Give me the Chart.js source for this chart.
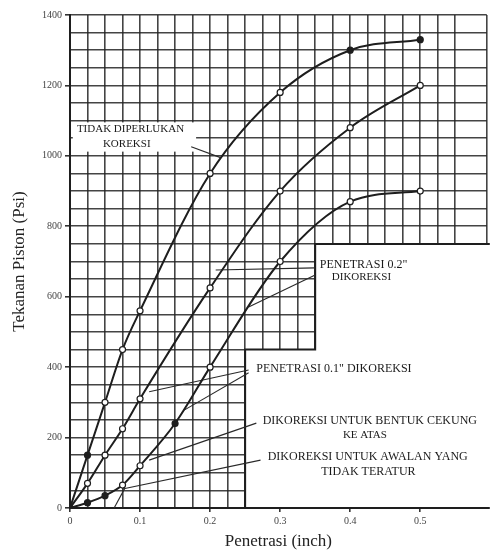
<!DOCTYPE html>
<html lang="id">
<head>
<meta charset="UTF-8">
<title>Tekanan Piston vs Penetrasi</title>
<script src="https://cdn.jsdelivr.net/npm/chart.js@4.4.1/dist/chart.umd.min.js"></script>
<style>
    html, body { margin: 0; padding: 0; background: #fff; }
    #wrap { width: 492px; height: 551px; }
</style>
</head>
<body>
<div id="wrap"><canvas id="grafik"></canvas></div>

<script>
    // data (penetrasi dalam inch, tekanan dalam psi)
    var penetrasiA = [0, 0.025, 0.05, 0.075, 0.1, 0.2, 0.3, 0.4, 0.5];
    var tekananA   = [0, 150, 300, 450, 560, 950, 1180, 1300, 1330];

    var penetrasiB = [0, 0.025, 0.05, 0.075, 0.1, 0.2, 0.3, 0.4, 0.5];
    var tekananB   = [0, 70, 150, 225, 310, 625, 900, 1080, 1200];

    var penetrasiC = [0, 0.025, 0.05, 0.075, 0.1, 0.15, 0.2, 0.3, 0.4, 0.5];
    var tekananC   = [0, 15, 35, 65, 120, 240, 400, 700, 870, 900];

    // garis penunjuk ke keterangan [x1, y1, x2, y2]
    var garisPenunjuk = [
        [0.173, 1026, 0.215, 995],
        [0.208, 676, 0.350, 682],
        [0.255, 571, 0.350, 662],
        [0.113, 330, 0.255, 392],
        [0.163, 278, 0.255, 384],
        [0.113, 136, 0.266, 241],
        [0.075, 54, 0.272, 136],
        [0.063, 0, 0.078, 55]
    ];

    var labelY = [0, 200, 400, 600, 800, 1000, 1200, 1400];
    var labelX = [0, 0.1, 0.2, 0.3, 0.4, 0.5];

    function titik(xs, ys) {
        var hasil = [];
        for (var i = 0; i < xs.length; i++) hasil.push({ x: xs[i], y: ys[i] });
        return hasil;
    }

    function adaDi(daftar, v) {
        for (var i = 0; i < daftar.length; i++) {
            if (Math.abs(daftar[i] - v) < 1e-6) return true;
        }
        return false;
    }

    var hitam = '#1e1e1e';
    var putih = '#ffffff';
    var hurufSerif = '"Liberation Serif", "DejaVu Serif", serif';

    var datasets = [
        {
            label: 'A', data: titik(penetrasiA, tekananA),
            borderColor: hitam, borderWidth: 2, tension: 0.4, cubicInterpolationMode: 'monotone',
            pointRadius: 3, pointBorderWidth: 1.2, pointBorderColor: hitam,
            pointBackgroundColor: [hitam, hitam, putih, putih, putih, putih, putih, hitam, hitam]
        },
        {
            label: 'B', data: titik(penetrasiB, tekananB),
            borderColor: hitam, borderWidth: 2, tension: 0.4, cubicInterpolationMode: 'monotone',
            pointRadius: 3, pointBorderWidth: 1.2, pointBorderColor: hitam,
            pointBackgroundColor: putih
        },
        {
            label: 'C', data: titik(penetrasiC, tekananC),
            borderColor: hitam, borderWidth: 2, tension: 0.4, cubicInterpolationMode: 'monotone',
            pointRadius: 3, pointBorderWidth: 1.2, pointBorderColor: hitam,
            pointBackgroundColor: [hitam, hitam, hitam, putih, putih, hitam, putih, putih, putih, putih]
        }
    ];

    garisPenunjuk.forEach(function (g) {
        datasets.push({
            data: [{ x: g[0], y: g[1] }, { x: g[2], y: g[3] }],
            borderColor: '#2a2a2a', borderWidth: 1.1, pointRadius: 0, tension: 0
        });
    });

    // daerah putih (tanpa grid) di kanan bawah + keterangan
    var bidangPutih = {
        id: 'bidangPutih',
        beforeDatasetsDraw: function (chart) {
            var ctx = chart.ctx, xs = chart.scales.x, ys = chart.scales.y, area = chart.chartArea;
            var x1 = xs.getPixelForValue(0.25), x2 = xs.getPixelForValue(0.35);
            var y1 = ys.getPixelForValue(450), y2 = ys.getPixelForValue(750);
            ctx.save();
            ctx.fillStyle = '#fff';
            ctx.beginPath();
            ctx.moveTo(x1, area.bottom);
            ctx.lineTo(x1, y1);
            ctx.lineTo(x2, y1);
            ctx.lineTo(x2, y2);
            ctx.lineTo(area.right + 3, y2);
            ctx.lineTo(area.right + 3, area.bottom);
            ctx.closePath();
            ctx.fill();

            // kotak putih di belakang "TIDAK DIPERLUKAN KOREKSI"
            var bx1 = xs.getPixelForValue(0.004), bx2 = xs.getPixelForValue(0.18);
            var by1 = ys.getPixelForValue(1095), by2 = ys.getPixelForValue(1012);
            ctx.fillRect(bx1, by1, bx2 - bx1, by2 - by1);

            ctx.strokeStyle = hitam;
            ctx.lineWidth = 2;
            ctx.beginPath();
            ctx.moveTo(x1, area.bottom);
            ctx.lineTo(x1, y1);
            ctx.lineTo(x2, y1);
            ctx.lineTo(x2, y2);
            ctx.lineTo(area.right + 3, y2);
            ctx.stroke();
            ctx.beginPath();
            ctx.moveTo(area.left, area.bottom);
            ctx.lineTo(area.right + 3, area.bottom);
            ctx.stroke();
            ctx.restore();
        },
        afterDatasetsDraw: function (chart) {
            var ctx = chart.ctx, xs = chart.scales.x, ys = chart.scales.y;
            var teks = [
                ['TIDAK DIPERLUKAN', 0.0864, 1077, 'center', 11],
                ['KOREKSI', 0.081, 1034, 'center', 11],
                ['PENETRASI 0.2"', 0.419, 690, 'center', 12],
                ['DIKOREKSI', 0.416, 656, 'center', 11],
                ['PENETRASI 0.1" DIKOREKSI', 0.266, 395, 'left', 12],
                ['DIKOREKSI UNTUK BENTUK CEKUNG', 0.428, 247, 'center', 12],
                ['KE ATAS', 0.421, 207, 'center', 11],
                ['DIKOREKSI UNTUK AWALAN YANG', 0.425, 145, 'center', 12],
                ['TIDAK TERATUR', 0.426, 102, 'center', 12]
            ];
            ctx.save();
            ctx.fillStyle = '#1a1a1a';
            ctx.textBaseline = 'middle';
            teks.forEach(function (t) {
                ctx.font = t[4] + 'px ' + hurufSerif;
                ctx.textAlign = t[3];
                ctx.fillText(t[0], xs.getPixelForValue(t[1]), ys.getPixelForValue(t[2]));
            });
            ctx.restore();
        }
    };

    new Chart(document.getElementById('grafik'), {
        type: 'line',
        data: { datasets: datasets },
        options: {
            responsive: true,
            maintainAspectRatio: false,
            animation: false,
            layout: { padding: { top: 15, right: 2, left: 0, bottom: 0 } },
            plugins: { legend: { display: false }, tooltip: { enabled: false } },
            scales: {
                x: {
                    type: 'linear', min: 0, max: 0.595,
                    afterFit: function (s) { s.height = 43; },
                    grid: {
                        color: 'rgba(35,35,35,0.85)', lineWidth: 1.6, tickLength: 4,
                        tickColor: function (c) { return adaDi(labelX, c.tick.value) ? '#333' : 'transparent'; }
                    },
                    border: { color: hitam, width: 2 },
                    ticks: {
                        stepSize: 0.025, autoSkip: false, maxRotation: 0, padding: 3,
                        color: '#444', font: { family: hurufSerif, size: 10 },
                        callback: function (v) {
                            if (!adaDi(labelX, v)) return '';
                            return v === 0 ? '0' : v.toFixed(1);
                        }
                    },
                    title: {
                        display: true, text: 'Penetrasi (inch)', color: '#222',
                        font: { family: hurufSerif, size: 17 },
                        padding: { top: 0, bottom: -1 }
                    }
                },
                y: {
                    type: 'linear', min: 0, max: 1400,
                    afterFit: function (s) { s.width = 70; },
                    grid: {
                        color: 'rgba(35,35,35,0.85)', lineWidth: 1.6, tickLength: 5,
                        tickColor: function (c) { return adaDi(labelY, c.tick.value) ? '#333' : 'transparent'; }
                    },
                    border: { color: hitam, width: 2 },
                    ticks: {
                        stepSize: 50, autoSkip: false, padding: 3,
                        color: '#444', font: { family: hurufSerif, size: 10 },
                        callback: function (v) { return adaDi(labelY, v) ? String(v) : ''; }
                    },
                    title: {
                        display: true, text: 'Tekanan Piston (Psi)', color: '#222',
                        font: { family: hurufSerif, size: 17 },
                        padding: { top: 9, bottom: 0 }
                    }
                }
            }
        },
        plugins: [bidangPutih]
    });
</script>
</body>
</html>
